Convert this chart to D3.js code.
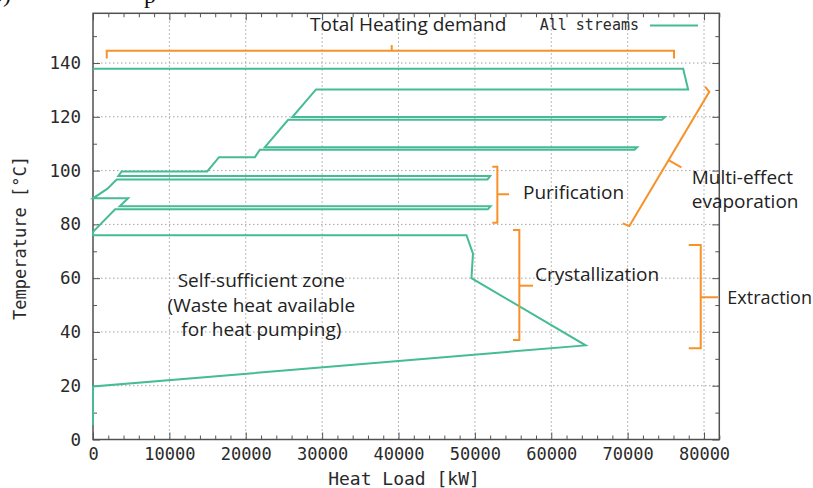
<!DOCTYPE html>
<html>
<head>
<meta charset="utf-8">
<script src="https://cdn.jsdelivr.net/npm/d3@7"></script>
<style>
  body { margin: 0; background: #fff; }
  svg { display: block; }
  .tick text { font-family: "DejaVu Sans Mono", monospace; fill: #2a2a2a; }
  .note { font-family: "Open Sans", "Noto Sans", sans-serif; font-size: 19px; fill: #222; }
</style>
</head>
<body>
<svg id="chart" width="813" height="488"></svg>
<script>
// stream profile (one polyline, heat load in kW vs temperature in °C)
const heatLoad = [
    0, 77270, 77920, 29200, 26100, 74870, 74500, 25550, 22500, 71240,
    70900, 21850, 21200, 16500, 14950, 3750, 3320, 52000, 51650, 3100,
    1900, 0, 4600, 3500, 52050, 51700, 2900, 0, 0, 48900,
    49750, 49550, 64500, 0, 0
];
const temperature = [
    137.9, 137.9, 130.2, 130.2, 119.9, 119.9, 118.9, 118.9, 108.7, 108.7,
    107.8, 107.8, 105.0, 105.0, 99.7, 99.7, 98.0, 98.0, 96.7, 96.7,
    93.3, 89.7, 89.7, 86.7, 86.7, 85.6, 85.6, 77.2, 76.0, 76.0,
    69.1, 60.0, 35.0, 19.7, 5.4
];

const xTicks = [0, 10000, 20000, 30000, 40000, 50000, 60000, 70000, 80000];
const yTicks = [0, 20, 40, 60, 80, 100, 120, 140];

// annotation brackets, in data units
const totalBracket = [[[1800, 141.7], [1800, 144.6], [76070, 144.6], [76070, 141.7]], [[39110, 144.6], [39110, 146.7]]];
const purifBracket = [[[52280, 101.4], [52940, 101.4], [52940, 80.6], [52280, 80.6]], [[52940, 91.2], [54470, 91.2]]];
const crystBracket = [[[54990, 77.9], [55820, 77.9], [55820, 37.0], [54990, 37.0]], [[55820, 57.2], [57610, 57.2]]];
const extrBracket = [[[78000, 72.3], [79570, 72.3], [79570, 33.9], [78000, 33.9]], [[79570, 52.9], [81830, 52.9]]];
const evapBracket = [[[69350, 80.4], [70220, 79.4], [80690, 129.3], [80130, 131.2]], [[75360, 103.9], [77030, 101.2]]];

const noteLabels = [
    {text: 'Total Heating demand', x: 28410, y: 152.1, anchor: 'start', size: 19},
    {text: 'Purification', x: 56300, y: 89.4, anchor: 'start', size: 19},
    {text: 'Multi-effect', x: 78390, y: 94.9, anchor: 'start', size: 19},
    {text: 'evaporation', x: 78390, y: 86.0, anchor: 'start', size: 19},
    {text: 'Crystallization', x: 57870, y: 59.0, anchor: 'start', size: 19},
    {text: 'Extraction', x: 83050, y: 50.4, anchor: 'start', size: 18},
    {text: 'Self-sufficient zone', x: 22040, y: 56.6, anchor: 'middle', size: 19},
    {text: '(Waste heat available', x: 22040, y: 47.5, anchor: 'middle', size: 19},
    {text: 'for heat pumping)', x: 22040, y: 38.5, anchor: 'middle', size: 19}
];

const teal = '#45bb96';
const orange = '#f7922a';

const svg = d3.select('#chart');
const plot = {left: 93, right: 719.3, top: 13.3, bottom: 439.5};

const x = d3.scaleLinear().domain([0, 82000]).range([plot.left, plot.right]);
const y = d3.scaleLinear().domain([0, 158.5]).range([plot.bottom, plot.top]);

// grid
const grid = svg.append('g').attr('stroke', '#a4a4a4').attr('stroke-dasharray', '1.5,2.5');
grid.selectAll('line.gx').data(xTicks.slice(1)).join('line')
    .attr('class', 'gx')
    .attr('x1', d => x(d)).attr('x2', d => x(d))
    .attr('y1', plot.top).attr('y2', plot.bottom);
grid.selectAll('line.gy').data(yTicks.slice(1)).join('line')
    .attr('class', 'gy')
    .attr('x1', plot.left).attr('x2', plot.right)
    .attr('y1', d => y(d)).attr('y2', d => y(d));

// inward ticks on all four sides, gnuplot style
function addAxis(axis, tx, ty, labels) {
    const g = svg.append('g').attr('transform', `translate(${tx},${ty})`).call(axis);
    g.select('.domain').remove();
    g.selectAll('.tick line').attr('stroke', '#555');
    if (!labels) g.selectAll('.tick text').remove();
    return g;
}
const minorX = d3.range(0, 82001, 2000).filter(d => d % 10000);
const minorY = d3.range(10, 158, 20);

addAxis(d3.axisBottom(x).tickValues(xTicks).tickSize(-7).tickPadding(8.5).tickFormat(d3.format('d')), 0, plot.bottom, true)
    .selectAll('text').style('font-size', '17px');
addAxis(d3.axisBottom(x).tickValues(minorX).tickSize(-4), 0, plot.bottom, false);
addAxis(d3.axisTop(x).tickValues(xTicks).tickSize(-7), 0, plot.top, false);
addAxis(d3.axisTop(x).tickValues(minorX).tickSize(-4), 0, plot.top, false);
addAxis(d3.axisLeft(y).tickValues(yTicks).tickSize(-7).tickPadding(12), plot.left, 0, true)
    .selectAll('text').style('font-size', '17.5px');
addAxis(d3.axisLeft(y).tickValues(minorY).tickSize(-4), plot.left, 0, false);
addAxis(d3.axisRight(y).tickValues(yTicks).tickSize(-7), plot.right, 0, false);
addAxis(d3.axisRight(y).tickValues(minorY).tickSize(-4), plot.right, 0, false);

// frame
svg.append('rect')
    .attr('x', plot.left).attr('y', plot.top)
    .attr('width', plot.right - plot.left).attr('height', plot.bottom - plot.top)
    .attr('fill', 'none').attr('stroke', '#505050').attr('stroke-width', 1.5);

// the stream curve
const pts = heatLoad.map((h, i) => [h, temperature[i]]);
const line = d3.line().x(d => x(d[0])).y(d => y(d[1]));
svg.append('path')
    .datum(pts)
    .attr('d', line)
    .attr('fill', 'none')
    .attr('stroke', teal)
    .attr('stroke-width', 2)
    .attr('stroke-linejoin', 'miter');

// legend
svg.append('text')
    .attr('x', 639).attr('y', 29.5)
    .attr('text-anchor', 'end')
    .style('font-family', '"DejaVu Sans Mono", monospace')
    .style('font-size', '15px').style('fill', '#2a2a2a')
    .text('All streams');
svg.append('line')
    .attr('x1', 650).attr('x2', 698).attr('y1', 25.5).attr('y2', 25.5)
    .attr('stroke', teal).attr('stroke-width', 2);

// brackets
[totalBracket, purifBracket, crystBracket, extrBracket, evapBracket].forEach(b => {
    b.forEach(seg => {
        svg.append('path')
            .attr('d', line(seg))
            .attr('fill', 'none')
            .attr('stroke', orange)
            .attr('stroke-width', 2);
    });
});

// annotation text
svg.selectAll('text.note').data(noteLabels).join('text')
    .attr('class', 'note')
    .attr('x', d => x(d.x))
    .attr('y', d => y(d.y))
    .attr('text-anchor', d => d.anchor)
    .style('font-size', d => d.size + 'px')
    .text(d => d.text);

// axis titles
svg.append('text')
    .attr('x', 404).attr('y', 485)
    .attr('text-anchor', 'middle')
    .style('font-family', '"DejaVu Sans Mono", monospace')
    .style('font-size', '18px').style('fill', '#2a2a2a')
    .text('Heat Load [kW]');
svg.append('text')
    .attr('transform', 'translate(26,238) rotate(-90)')
    .attr('text-anchor', 'middle')
    .style('font-family', '"DejaVu Sans Mono", monospace')
    .style('font-size', '17px').style('fill', '#2a2a2a')
    .text('Temperature [°C]');

// cropped remains of the caption above the figure
svg.append('text')
    .attr('x', -9).attr('y', 2)
    .style('font-family', '"Liberation Serif", serif').style('font-size', '24px').style('fill', '#111')
    .text('b)');
svg.append('text')
    .attr('x', 144).attr('y', 3)
    .style('font-family', '"Liberation Serif", serif').style('font-size', '24px').style('fill', '#111')
    .text('p');
</script>
</body>
</html>
